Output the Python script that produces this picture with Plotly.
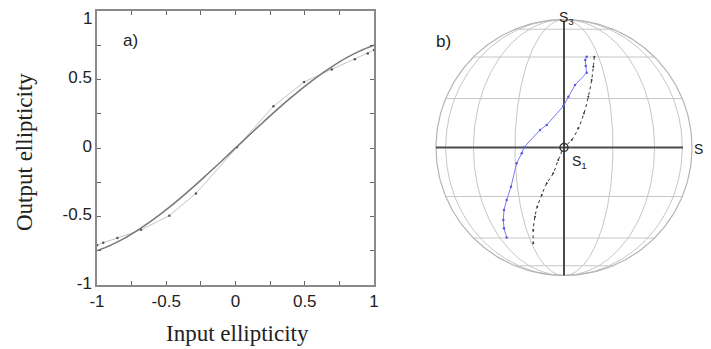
import numpy as np
import plotly.graph_objects as go

W, H = 711, 349
OFF = 8  # page body margin in the viewer: figure pixels are shifted by this much

# ---- Panel a data ----
fit_x = [-1.0, -0.9, -0.8, -0.7, -0.6, -0.5, -0.4, -0.3, -0.2, -0.1, 0.0,
         0.1, 0.2, 0.3, 0.4, 0.5, 0.6, 0.7, 0.8, 0.9, 1.0]
fit_y = [-0.75, -0.709, -0.658, -0.596, -0.527, -0.45, -0.367, -0.28, -0.188, -0.095, 0.0,
         0.095, 0.188, 0.28, 0.367, 0.45, 0.527, 0.596, 0.658, 0.709, 0.75]
meas_x = [-1.0, -0.955, -0.853, -0.682, -0.478, -0.286, 0.01, 0.274, 0.495, 0.695, 0.862, 0.955, 1.0]
meas_y = [-0.71, -0.691, -0.657, -0.597, -0.494, -0.332, 0.006, 0.305, 0.482, 0.573, 0.648, 0.690, 0.715]
x_tick_vals = [-1, -0.5, 0, 0.5, 1]
x_tick_text = ["-1", "-0.5", "0", "0.5", "1"]
y_tick_vals = [-1, -0.5, 0, 0.5]
y_tick_text = ["-1", "-0.5", "0", "0.5"]
y_top_label = "1"  # drawn as annotation so it stays inside the page
minor_vals = [-0.75, -0.25, 0.25, 0.75]

# ---- Panel b data (Poincare sphere projection, unit radius) ----
black_x = [0.237, 0.229, 0.216, 0.190, 0.156, 0.112, 0.060, 0.0, -0.045, -0.084,
           -0.135, -0.174, -0.209, -0.227, -0.240, -0.240]
black_y = [0.709, 0.631, 0.527, 0.397, 0.267, 0.150, 0.059, 0.0, -0.098, -0.202,
           -0.280, -0.371, -0.463, -0.541, -0.645, -0.749]
blue_x = [0.177, 0.166, 0.170, 0.177, 0.086, 0.034, -0.005, -0.135, -0.1875, -0.3125,
          -0.330, -0.370, -0.414, -0.448, -0.469, -0.474, -0.469, -0.448]
blue_y = [0.709, 0.684, 0.637, 0.584, 0.488, 0.397, 0.324, 0.176, 0.137, 0.002,
          -0.045, -0.123, -0.306, -0.410, -0.488, -0.566, -0.631, -0.703]
grid_deg = [22.5, 45.0, 67.5]


# screen-pixel -> paper helpers
def pxx(p):
    return (p - OFF) / W


def pxy(p):
    return 1 - (p - OFF) / H


ax_l, ax_r, ax_t, ax_b = 97, 374, 11, 285
cx, cy, R = 564, 147.5, 128.0
b_x0, b_x1, b_y0, b_y1 = 420, OFF + W, OFF, OFF + H

fig = go.Figure()

# Panel a traces
fig.add_trace(go.Scatter(x=meas_x, y=meas_y, mode="lines+markers",
                         line=dict(color="#c4c4c4", width=1),
                         marker=dict(color="#555555", size=2.5),
                         xaxis="x", yaxis="y", showlegend=False))
fig.add_trace(go.Scatter(x=fit_x, y=fit_y, mode="lines", line=dict(color="#7a7a7a", width=1.6, shape="spline"),
                         xaxis="x", yaxis="y", showlegend=False))

# Panel b grid
t = np.linspace(0, 2 * np.pi, 241)
gcol = "#c6c6c6"
for d in grid_deg:
    s = np.sin(np.radians(d))
    c = np.cos(np.radians(d))
    for sg in (-1, 1):
        fig.add_trace(go.Scatter(x=sg * s * np.cos(t[:121] - np.pi / 2), y=np.sin(t[:121] - np.pi / 2),
                                 mode="lines", line=dict(color=gcol, width=1),
                                 xaxis="x2", yaxis="y2", showlegend=False, hoverinfo="skip"))
        fig.add_trace(go.Scatter(x=[-c, c], y=[sg * s, sg * s], mode="lines",
                                 line=dict(color=gcol, width=1),
                                 xaxis="x2", yaxis="y2", showlegend=False, hoverinfo="skip"))
fig.add_trace(go.Scatter(x=np.cos(t), y=np.sin(t), mode="lines", line=dict(color="#b4b4b4", width=1.2),
                         xaxis="x2", yaxis="y2", showlegend=False, hoverinfo="skip"))
fig.add_trace(go.Scatter(x=[-1.0, 0.93], y=[0, 0], mode="lines", line=dict(color="#4a4a4a", width=2),
                         xaxis="x2", yaxis="y2", showlegend=False, hoverinfo="skip"))
fig.add_trace(go.Scatter(x=[0, 0], y=[-1.0, 0.99], mode="lines", line=dict(color="#4a4a4a", width=2),
                         xaxis="x2", yaxis="y2", showlegend=False, hoverinfo="skip"))
fig.add_trace(go.Scatter(x=black_x, y=black_y, mode="lines+markers",
                         line=dict(color="#333333", width=1, dash="dot", shape="spline"),
                         marker=dict(color="#333333", size=2),
                         xaxis="x2", yaxis="y2", showlegend=False))
fig.add_trace(go.Scatter(x=blue_x, y=blue_y, mode="lines+markers",
                         line=dict(color="#7b7bf0", width=1),
                         marker=dict(color="#5a5ae6", size=2.5),
                         xaxis="x2", yaxis="y2", showlegend=False))
fig.add_trace(go.Scatter(x=[0], y=[0], mode="markers",
                         marker=dict(size=8, color="rgba(0,0,0,0)", line=dict(color="#333333", width=1.5)),
                         xaxis="x2", yaxis="y2", showlegend=False))

tickfont = dict(family="Liberation Sans, Arial, sans-serif", size=17, color="#222222")
axis_common = dict(range=[-1, 1], ticks="inside",
                   ticklen=4, tickcolor="#666666", showline=True, linecolor="#8a8a8a",
                   linewidth=1.5, mirror="ticks", showgrid=False, zeroline=False,
                   tickfont=tickfont, automargin=False, ticklabeloverflow="allow",
                   minor=dict(tickvals=minor_vals, ticks="inside", ticklen=4, tickcolor="#666666",
                              showgrid=False))

fig.update_layout(
    template="none",
    width=W, height=H, margin=dict(l=0, r=0, t=0, b=0, pad=0, autoexpand=False),
    paper_bgcolor="white", plot_bgcolor="white",
    xaxis=dict(domain=[pxx(ax_l), pxx(ax_r)], anchor="y", tickvals=x_tick_vals,
               ticktext=x_tick_text, **axis_common),
    yaxis=dict(domain=[pxy(ax_b), pxy(ax_t)], anchor="x", tickvals=y_tick_vals,
               ticktext=y_tick_text, ticklabelshift=-2, **axis_common),
    xaxis2=dict(domain=[pxx(b_x0), pxx(b_x1)], range=[(b_x0 - cx) / R, (b_x1 - cx) / R],
                visible=False, anchor="y2", automargin=False),
    yaxis2=dict(domain=[pxy(b_y1), pxy(b_y0)], range=[(cy - b_y1) / R, (cy - b_y0) / R],
                visible=False, anchor="x2", automargin=False),
)

serif = dict(family="Liberation Serif, Times New Roman, serif", size=23, color="#222222")
sans = dict(family="Liberation Sans, Arial, sans-serif", size=17, color="#222222")
sans_s = dict(family="Liberation Sans, Arial, sans-serif", size=14, color="#222222")
ann = [
    dict(text="Input ellipticity", x=pxx(237), y=pxy(333), font=serif),
    dict(text="Output ellipticity", x=pxx(24), y=pxy(152), font=serif, textangle=-90),
    dict(text=y_top_label, x=pxx(93), y=1.0, font=tickfont, xanchor="right", yanchor="top", borderpad=0),
    dict(text="a)", x=pxx(130), y=pxy(40), font=sans),
    dict(text="b)", x=pxx(443), y=pxy(41), font=sans),
    dict(text="S<sub>3</sub>", x=pxx(566), y=1.0, font=sans_s, yanchor="top", borderpad=0),
    dict(text="S<sub>2</sub>", x=pxx(710), y=pxy(150), font=sans_s, xanchor="right", borderpad=0),
    dict(text="S<sub>1</sub>", x=pxx(579), y=pxy(162), font=sans_s),
]
for a in ann:
    a.setdefault("xanchor", "center")
    a.setdefault("yanchor", "middle")
    fig.add_annotation(xref="paper", yref="paper", showarrow=False, **a)

fig.write_html("out.html")
